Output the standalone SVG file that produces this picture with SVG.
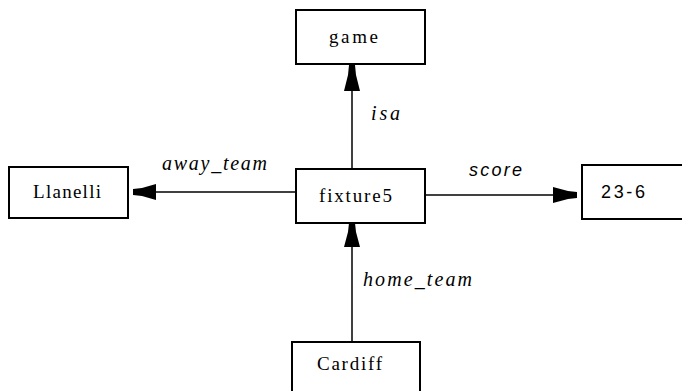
<svg xmlns="http://www.w3.org/2000/svg" width="682" height="391" viewBox="0 0 682 391">
<style>
.box{fill:#fff;stroke:#000;stroke-width:2}
.t{font-family:"Liberation Serif",serif;font-size:19px;fill:#000}
.s{font-family:"Liberation Sans",sans-serif;font-size:18px;fill:#000}
.l{font-family:"Liberation Serif",serif;font-size:20px;font-style:italic;fill:#000}
.ls{font-family:"Liberation Sans",sans-serif;font-size:18px;font-style:italic;fill:#000}
.c{stroke:#000;stroke-width:1.5;fill:none}
.ah{fill:#000;stroke:none}
</style>
<rect width="682" height="391" fill="#fff"/>
<g id="connectors">
<g id="isa">
<line class="c" x1="352" y1="169" x2="352" y2="80"/>
<polygon class="ah" points="349,65 355,65 356,75 360,91 344,91 348,75"/>
<text class="l" x="371" y="120" textLength="29">isa</text>
</g>
<g id="home_team">
<line class="c" x1="352" y1="342" x2="352" y2="238"/>
<polygon class="ah" points="349,223 355,223 356,232 360,247 344,247 348,232"/>
<text class="l" x="363" y="286" textLength="109">home_team</text>
</g>
<g id="away_team">
<line class="c" x1="296" y1="192" x2="145" y2="192"/>
<polygon class="ah" points="133,189 133,195 142,196 156,200 156,184 142,188"/>
<text class="l" x="162" y="170" textLength="105">away_team</text>
</g>
<g id="score">
<line class="c" x1="425" y1="195" x2="565" y2="195"/>
<polygon class="ah" points="577,192 577,198 568,199 553,203 553,187 568,191"/>
<text class="ls" x="469" y="176" textLength="53">score</text>
</g>
</g>
<g id="game">
<rect class="box" x="296" y="10" width="129" height="54"/>
<text class="t" x="329" y="43" textLength="49">game</text>
</g>
<g id="fixture5">
<rect class="box" x="296" y="169" width="129" height="54"/>
<text class="t" x="319" y="202" textLength="73">fixture5</text>
</g>
<g id="Llanelli">
<rect class="box" x="9" y="167" width="119" height="51"/>
<text class="t" x="33" y="198" textLength="68">Llanelli</text>
</g>
<g id="n23-6">
<rect class="box" x="582" y="165" width="110" height="54"/>
<text class="s" x="601" y="198" textLength="44">23-6</text>
</g>
<g id="Cardiff">
<rect class="box" x="292" y="342" width="128" height="60"/>
<text class="t" x="317" y="370" textLength="65">Cardiff</text>
</g>
</svg>
